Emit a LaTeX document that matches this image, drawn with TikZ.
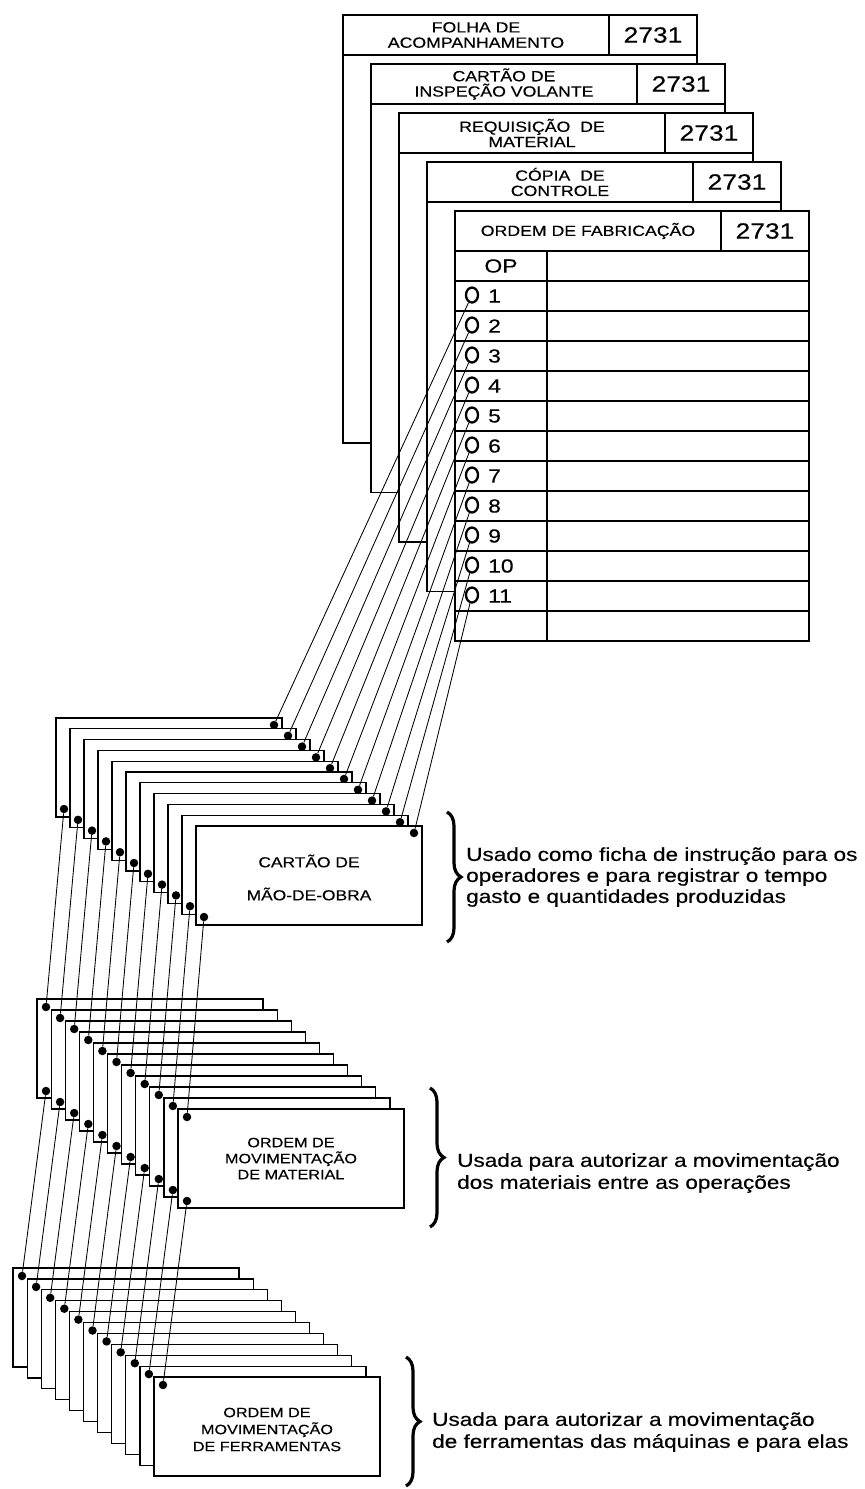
\documentclass[tikz,border=0pt]{standalone}
\usepackage{fontspec}
\setmainfont[FakeStretch=1.2,FakeBold=0.35]{Liberation Sans}
\usetikzlibrary{decorations.pathreplacing,shapes.geometric}
\begin{document}
\begin{tikzpicture}[x=1pt,y=-1pt,
  frm/.style={draw=black,line width=1.3pt,fill=white},
  rule/.style={draw=black,line width=1.3pt},
  card/.style={draw=black,line width=1.2pt,fill=white,minimum width=226pt,minimum height=99pt,anchor=north west,inner sep=0pt,outer sep=0pt},
  hole/.style={circle,fill=black,inner sep=0pt,minimum size=8.5pt},
  ring/.style={ellipse,draw=black,line width=2.3pt,minimum width=12pt,minimum height=15pt,inner sep=0pt},
  wire/.style={draw=black,line width=0.85pt},
  hdr/.style={font=\fontsize{14.75}{15.3}\selectfont,align=center,inner sep=0pt},
  numtxt/.style={font=\fontsize{22}{24}\selectfont,inner sep=0pt},
  optxt/.style={font=\fontsize{19}{20}\selectfont,inner sep=0pt},
  desc/.style={font=\fontsize{18.8}{21}\selectfont,align=left,inner sep=0pt,anchor=west},
  brc/.style={draw=black,line width=3.2pt,decorate,decoration={brace,amplitude=14pt}}
]
\useasboundingbox (0,0) rectangle (865,1489);

% ---------- stacked forms ----------
\foreach \i/\txt in {0/{FOLHA DE\\ACOMPANHAMENTO},1/{CARTÃO DE\\INSPEÇÃO VOLANTE},2/{REQUISIÇÃO~~DE\\MATERIAL},3/{CÓPIA~~DE\\CONTROLE},4/{ORDEM DE FABRICAÇÃO}}{
  \pgfmathsetmacro\L{343+28*\i}
  \pgfmathsetmacro\T{15+49*\i}
  \pgfmathsetmacro\B{443+49.5*\i}
  \draw[frm] (\L,\T) rectangle ({\L+354},\B);
  \draw[rule] (\L,{\T+40}) -- ({\L+354},{\T+40});
  \draw[rule] ({\L+266},\T) -- ({\L+266},{\T+40});
  \node[hdr] (h\i) at ({\L+133},{\T+20}) {\txt};
  \node[numtxt] (n\i) at ({\L+310},{\T+20}) {2731};
}

% ---------- table of ORDEM DE FABRICAÇÃO ----------
\foreach \j in {0,...,11}{
  \draw[rule] (455,{281+30*\j}) -- (809,{281+30*\j});
}
\draw[rule] (547,251) -- (547,641);
\node[optxt] (op) at (501,266) {OP};
\foreach \k in {1,...,11}{
  \node[ring] (c\k) at (472,{295+30*(\k-1)}) {};
  \node[optxt,anchor=west] (o\k) at (488,{296+30*(\k-1)}) {\k};
}

% ---------- stack A : CARTÃO DE MÃO-DE-OBRA ----------
\foreach \k in {0,...,10}{
  \node[card] (A\k) at ({56+14*\k},{718+10.8*\k}) {};
  \node[hole] (at\k) at ([xshift=-8pt,yshift=-7pt]A\k.north east) {};
  \node[hole] (ab\k) at ([xshift=8pt,yshift=8pt]A\k.south west) {};
}
\node[font=\fontsize{14.5}{33}\selectfont,align=center,inner sep=0pt] (ta) at ([yshift=-2pt]A10.center) {CARTÃO DE\\MÃO-DE-OBRA};

% ---------- stack B : ORDEM DE MOVIMENTAÇÃO DE MATERIAL ----------
\foreach \k in {0,...,10}{
  \node[card] (B\k) at ({37+14.1*\k},{999+11*\k}) {};
  \node[hole] (bt\k) at ([xshift=9pt,yshift=-8pt]B\k.north west) {};
  \node[hole] (bb\k) at ([xshift=9pt,yshift=7pt]B\k.south west) {};
}
\node[font=\fontsize{13.5}{16}\selectfont,align=center,inner sep=0pt] (tb) at (B10.center) {ORDEM DE\\MOVIMENTAÇÃO\\DE MATERIAL};

% ---------- stack C : ORDEM DE MOVIMENTAÇÃO DE FERRAMENTAS ----------
\foreach \k in {0,...,10}{
  \node[card] (C\k) at ({13+14.1*\k},{1268+10.9*\k}) {};
  \node[hole] (ct\k) at ([xshift=9pt,yshift=-8pt]C\k.north west) {};
}
\node[font=\fontsize{13.5}{17}\selectfont,align=center,inner sep=0pt] (tc) at ([yshift=-3pt]C10.center) {ORDEM DE\\MOVIMENTAÇÃO\\DE FERRAMENTAS};

% ---------- connectors ----------
\foreach \k in {0,...,10}{
  \pgfmathtruncatemacro\r{\k+1}
  \draw[wire] (c\r) -- (at\k);
  \draw[wire] (ab\k) -- (bt\k);
  \draw[wire] (bb\k) -- (ct\k);
}

% ---------- braces and descriptions ----------
\coordinate (b1s) at (447,812);
\coordinate (b1e) at (447,942);
\draw[brc] (b1s) -- (b1e);
\node[desc] (d1) at (466,877) {Usado como ficha de instrução para os\\operadores e para registrar o tempo\\gasto e quantidades produzidas};

\coordinate (b2s) at (430,1088);
\coordinate (b2e) at (430,1227);
\draw[brc] (b2s) -- (b2e);
\node[desc,font=\fontsize{18.8}{22}\selectfont] (d2) at (457,1173) {Usada para autorizar a movimentação\\dos materiais entre as operações};

\coordinate (b3s) at (406,1357);
\coordinate (b3e) at (406,1486);
\draw[brc] (b3s) -- (b3e);
\node[desc,font=\fontsize{18.8}{22}\selectfont] (d3) at (432,1432) {Usada para autorizar a movimentação\\de ferramentas das máquinas e para elas};
\end{tikzpicture}
\end{document}
